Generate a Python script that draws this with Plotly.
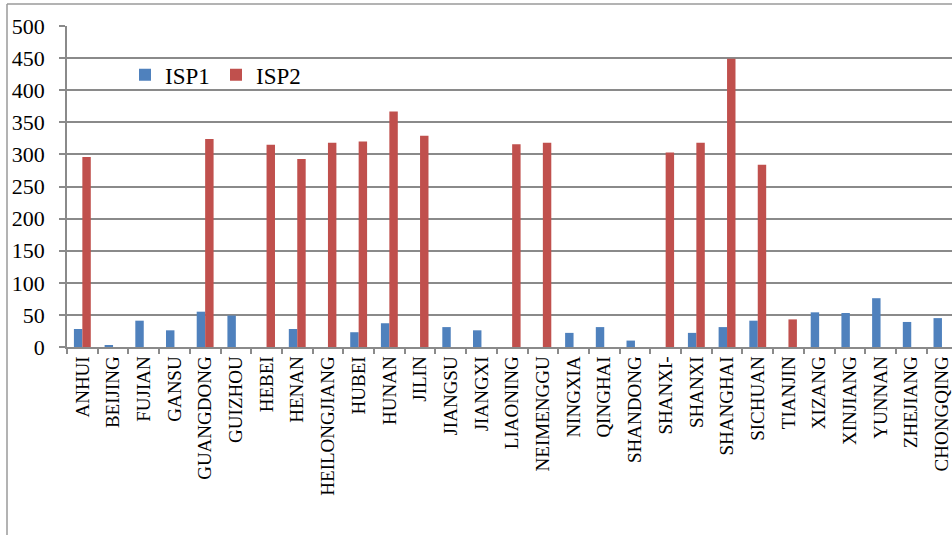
import plotly.graph_objects as go

provinces = ["ANHUI", "BEIJING", "FUJIAN", "GANSU", "GUANGDONG", "GUIZHOU", "HEBEI",
             "HENAN", "HEILONGJIANG", "HUBEI", "HUNAN", "JILIN", "JIANGSU", "JIANGXI",
             "LIAONING", "NEIMENGGU", "NINGXIA", "QINGHAI", "SHANDONG", "SHANXI-",
             "SHANXI", "SHANGHAI", "SICHUAN", "TIANJIN", "XIZANG", "XINJIANG",
             "YUNNAN", "ZHEJIANG", "CHONGQING"]

isp1 = [28, 2, 41, 26, 55, 49, 0, 28, 0, 23, 37, 0, 31, 26, 0, 0, 22, 31, 10, 0,
        22, 31, 41, 0, 54, 53, 76, 39, 45]
isp2 = [296, 0, 0, 0, 324, 0, 315, 293, 318, 320, 367, 329, 0, 0, 316, 318, 0, 0, 0, 303,
        318, 449, 284, 43, 0, 0, 0, 0, 0]

y_ticks = [0, 50, 100, 150, 200, 250, 300, 350, 400, 450, 500]

FONT = "Liberation Serif"
GRID = "#8a8a8a"

fig = go.Figure()
fig.add_trace(go.Bar(x=provinces, y=isp1, name="ISP1", marker_color="#4F81BD",
                     marker_line_width=0))
fig.add_trace(go.Bar(x=provinces, y=isp2, name="ISP2", marker_color="#C0504D",
                     marker_line_width=0))

W, H = 952, 535
L, R, T, B = 67, 0, 26, 188
pw, ph = W - L - R, H - T - B

fig.update_layout(
    width=W, height=H,
    margin=dict(l=L, r=R, t=T, b=B, pad=0),
    paper_bgcolor="white", plot_bgcolor="white",
    barmode="group", bargap=0.45, bargroupgap=0,
    font=dict(family=FONT, color="black"),
    legend=dict(orientation="h", x=(125 - L) / pw, y=(346.7 - 53) / ph,
                xanchor="left", yanchor="top", bgcolor="rgba(0,0,0,0)",
                font=dict(family=FONT, size=23), itemwidth=30,
                entrywidth=46, entrywidthmode="pixels",
                tracegroupgap=0),
    showlegend=True,
)

fig.update_xaxes(
    type="category", range=[-0.5, -0.5 + pw / 30.7],
    showline=True, linecolor=GRID, linewidth=1.5,
    ticks="outside", ticklen=5, tickcolor=GRID, tickwidth=1.5,
    tickson="boundaries", tickangle=-90,
    tickfont=dict(family=FONT, size=19, color="black"),
    showgrid=False,
)
fig.update_yaxes(
    range=[0, 500], tickvals=y_ticks,
    showline=True, linecolor=GRID, linewidth=1.5,
    ticks="outside", ticklen=6, tickcolor=GRID, tickwidth=1.5,
    showgrid=True, gridcolor=GRID, gridwidth=1.5,
    zeroline=False,
    tickfont=dict(family=FONT, size=22, color="black"),
    ticklabelstandoff=10,
)

# Outer chart-area frame (left and top edges)
x_left = (7 - L) / pw
y_top = 1 + (T - 4) / ph
fig.add_shape(type="line", xref="paper", yref="paper", x0=x_left, x1=x_left,
              y0=y_top, y1=-(H - T - ph) / ph - 0.1, line=dict(color="#9a9a9a", width=1.5))
fig.add_shape(type="line", xref="paper", yref="paper", x0=x_left, x1=1.05,
              y0=y_top, y1=y_top, line=dict(color="#9a9a9a", width=1.5))

fig.write_html("out.html")
